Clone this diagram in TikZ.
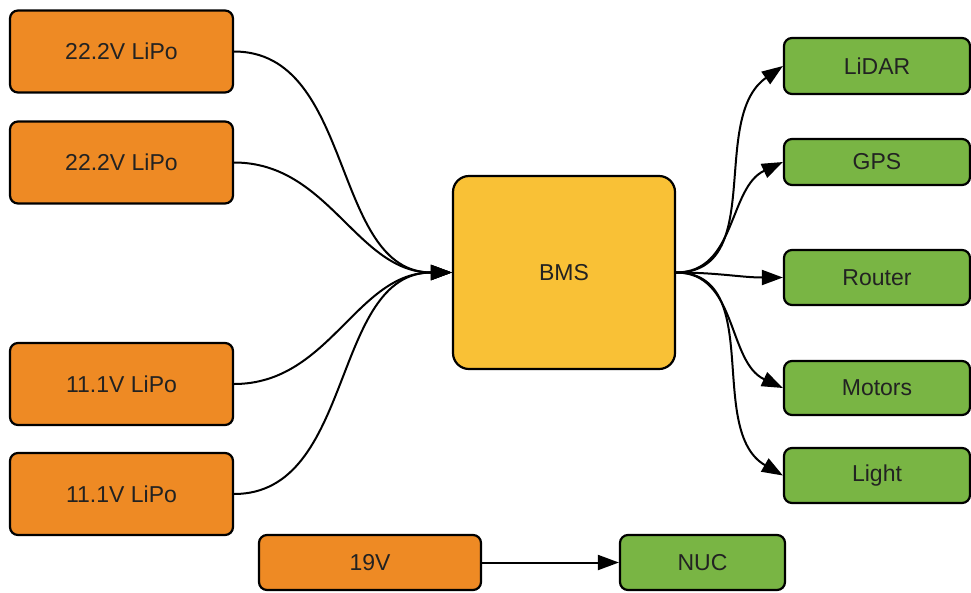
\documentclass[tikz,border=0pt]{standalone}
\usepackage{fontspec}
\setmainfont{Liberation Sans}
\usetikzlibrary{arrows.meta}
\definecolor{battery}{RGB}{238,138,36}
\definecolor{bmsfill}{RGB}{249,193,54}
\definecolor{load}{RGB}{121,181,68}
\definecolor{ink}{RGB}{34,34,34}
\tikzset{
  box/.style={draw=black, line width=2.2pt, rounded corners=8pt, inner sep=0pt,
              text=ink, font=\fontsize{23}{27}\selectfont},
  src/.style={box, fill=battery, minimum width=223pt, minimum height=82pt},
  sink/.style={box, fill=load, minimum width=186pt},
  wire/.style={line width=2pt, -{Triangle[length=21pt,width=15pt]}}
}
\begin{document}
\begin{tikzpicture}[x=1pt,y=1pt]
\useasboundingbox (0,0) rectangle (971,-592);

% battery packs
\node[src] (b1) at (121.5,-51.5) {22.2V LiPo};
\node[src] (b2) at (121.5,-162.5) {22.2V LiPo};
\node[src] (b3) at (121.5,-384) {11.1V LiPo};
\node[src] (b4) at (121.5,-494) {11.1V LiPo};

% battery management system
\node[box, fill=bmsfill, minimum width=222pt, minimum height=193pt, rounded corners=16pt]
  (bms) at (564,-272.5) {BMS};

% loads
\node[sink, minimum height=56pt] (lidar)  at (877,-66)    {LiDAR};
\node[sink, minimum height=46pt] (gps)    at (877,-162)   {GPS};
\node[sink, minimum height=55pt] (router) at (877,-277.5) {Router};
\node[sink, minimum height=54pt] (motors) at (877,-388)   {Motors};
\node[sink, minimum height=55pt] (light)  at (877,-475.5) {Light};

% separate supply
\node[box, fill=battery, minimum width=222pt, minimum height=55pt] (v19) at (370,-562.5) {19V};
\node[box, fill=load, minimum width=165pt, minimum height=55pt] (nuc) at (702.5,-562.5) {NUC};

% packs into the BMS
\foreach \b in {b1,b2,b3,b4}
  \draw[wire] (\b.east) to[out=0,in=180] (bms.west);

% BMS out to the loads
\draw[wire] (bms.east) to[out=0,in=215] (lidar.west);
\draw[wire] (bms.east) to[out=0,in=205] (gps.west);
\draw[wire] (bms.east) to[out=0,in=180] (router.west);
\draw[wire] (bms.east) to[out=0,in=155] (motors.west);
\draw[wire] (bms.east) to[out=0,in=150] (light.west);

\draw[wire] (v19.east) -- (nuc.west);
\end{tikzpicture}
\end{document}
